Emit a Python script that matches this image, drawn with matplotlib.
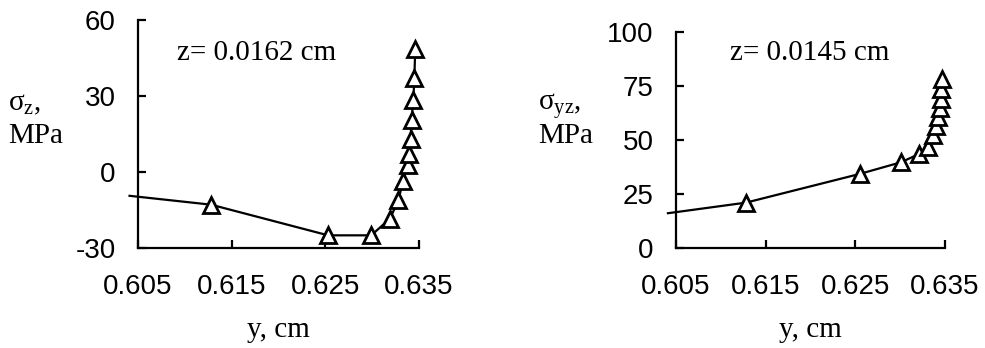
import matplotlib.pyplot as plt

plt.rcParams['font.family'] = 'Liberation Serif'
plt.rcParams['mathtext.fontset'] = 'custom'
plt.rcParams['mathtext.rm'] = 'Liberation Serif'
plt.rcParams['mathtext.it'] = 'Liberation Serif'

# left panel: sigma_z at z = 0.0162 cm (first point is where the line enters, no marker)
y_left = [0.6041, 0.6128, 0.6253, 0.6299, 0.6319, 0.6328, 0.6333, 0.6338,
          0.6339, 0.6341, 0.6342, 0.6344, 0.6345, 0.6346]
sz_left = [-9.4, -12.9, -25.0, -25.0, -18.4, -11.2, -3.4, 2.7,
           7.1, 12.9, 20.5, 28.6, 37.1, 48.5]

# right panel: sigma_yz at z = 0.0145 cm
y_right = [0.6041, 0.6128, 0.6255, 0.6301, 0.6321, 0.6331, 0.6337, 0.6340,
           0.6342, 0.6344, 0.6345, 0.6346, 0.6347]
syz_right = [16.1, 21.0, 34.3, 39.7, 43.5, 46.9, 52.3, 56.5,
             60.5, 64.7, 68.8, 73.5, 78.2]

x_ticks = [0.605, 0.615, 0.625, 0.635]
x_labels = ['0.605', '0.615', '0.625', '0.635']

W, H = 985, 348
fig = plt.figure(figsize=(W / 100, H / 100), dpi=100)


def ftext(x, y, s, **kw):
    # place text by pixel position (y measured from top)
    fig.text(x / W, 1 - y / H, s, fontsize=21, va='baseline', **kw)


def panel(rect, x, y, yticks, sym, zlab, lab_x, z_x):
    l, t, r, b = rect
    ax = fig.add_axes([l / W, 1 - b / H, (r - l) / W, (b - t) / H])
    ax.plot(x, y, color='black', lw=1.6, marker='^', ms=12, mfc='white',
            mec='black', mew=2.0, markevery=list(range(1, len(x))), clip_on=False)
    ax.set_xlim(0.605, 0.635)
    ax.set_ylim(yticks[0], yticks[-1])
    ax.set_xticks(x_ticks)
    ax.set_xticklabels(x_labels)
    ax.set_yticks(yticks)
    ax.set_yticklabels([str(v) for v in yticks])
    for s in ['top', 'right']:
        ax.spines[s].set_visible(False)
    for s in ['left', 'bottom']:
        ax.spines[s].set_linewidth(1.6)
    ax.tick_params(direction='in', length=6, width=1.6, labelsize=20)
    ax.tick_params(axis='y', pad=16)
    ax.tick_params(axis='x', pad=19)
    for lb in ax.get_xticklabels() + ax.get_yticklabels():
        lb.set_fontfamily('Liberation Sans')
    ftext((l + r) / 2, 337, 'y, cm', ha='center')
    ftext(z_x, 60, zlab, ha='left')
    ftext(lab_x, 110, sym, ha='left')
    ftext(lab_x, 143, 'MPa', ha='left')
    return ax


panel((138, 20, 419, 248), y_left, sz_left, [-30, 0, 30, 60],
      '$\\mathrm{σ_{z}}$,', 'z= 0.0162 cm', 8, 177)
panel((676, 32, 945, 248), y_right, syz_right, [0, 25, 50, 75, 100],
      '$\\mathrm{σ_{yz}}$,', 'z= 0.0145 cm', 538, 730)

fig.savefig('out.png', dpi=100)
